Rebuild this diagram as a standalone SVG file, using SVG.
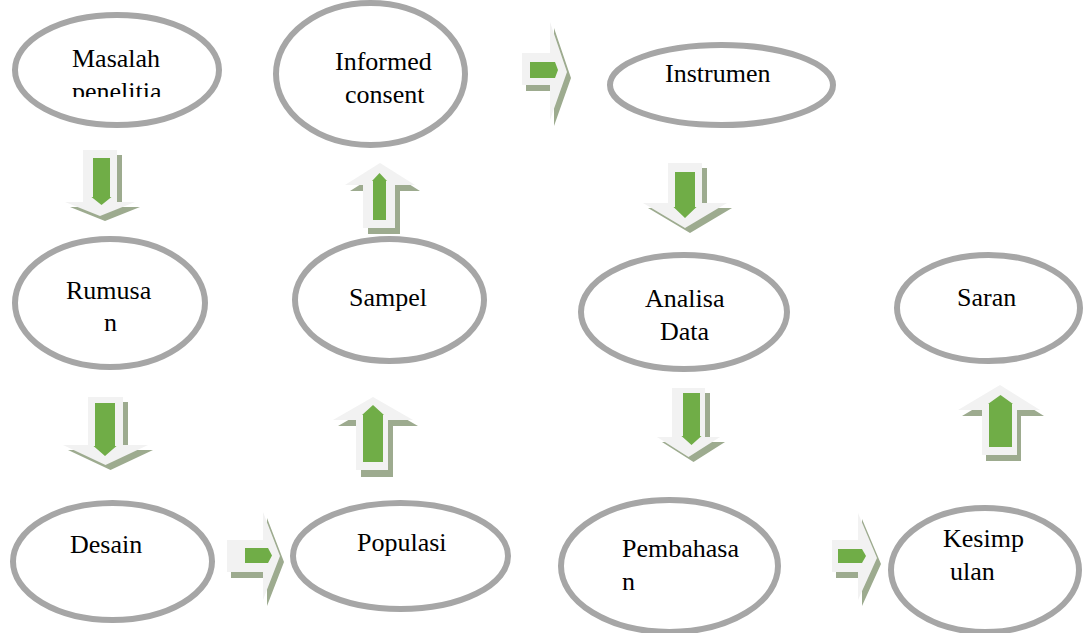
<svg xmlns="http://www.w3.org/2000/svg" width="1083" height="633" viewBox="0 0 1083 633">
<style>
.node ellipse{fill:#ffffff;stroke:#a6a6a6;stroke-width:6}
.node text{font-family:"Liberation Serif","Times New Roman",serif;font-size:26px;fill:#000000}
.lt{fill:#f2f2f2}
.sh{fill:#9dab8f}
.gr{fill:#70ad47}
</style>
<defs>
<clipPath id="clipM"><rect x="0" y="0" width="240" height="97"/></clipPath>
</defs>
<rect width="1083" height="633" fill="#ffffff"/>
<g id="connectors">
  <!-- D1 -->
  <g id="arrow-masalah-rumusan">
    <path class="sh" d="M88,155 H122 V207 H140 L105,221 L70,207 H88 Z"/>
    <path class="lt" d="M83,150 H117 V202 H135 L100,216 L65,202 H83 Z"/>
    <path class="gr" d="M93,158 H110 V197 H111.5 L101.5,205 L91.5,197 H93 Z"/>
  </g>
  <!-- D2 -->
  <g id="arrow-rumusan-desain">
    <path class="sh" d="M93,402 H128 V450 H153 L110.5,470 L68,450 H93 Z"/>
    <path class="lt" d="M88,397 H123 V445 H148 L105.5,465 L63,445 H88 Z"/>
    <path class="gr" d="M95,403 H115 V446 H116.5 L105,456 L93.5,446 H95 Z"/>
  </g>
  <!-- R2 -->
  <g id="arrow-desain-populasi">
    <path class="sh" d="M231,546 H267 V518 L284,562 L267,606 V578 H231 Z"/>
    <path class="lt" d="M227,540 H263 V512 L280,556 L263,600 V572 H227 Z"/>
    <path class="gr" d="M245,548 H268 L272,555.5 L268,563 H245 Z"/>
  </g>
  <!-- U2 -->
  <g id="arrow-populasi-sampel">
    <path class="sh" d="M378,403 L418,426 H393 V477 H361 V426 H338 Z"/>
    <path class="lt" d="M373,397 L413,420 H388 V470 H356 V420 H333 Z"/>
    <path class="gr" d="M373,405 L384,415 H383 V462 H363 V415 H362 Z"/>
  </g>
  <!-- U1 -->
  <g id="arrow-sampel-informed">
    <path class="sh" d="M385,169 L420,191 H400 V234 H368 V191 H350 Z"/>
    <path class="lt" d="M380,163 L415,185 H395 V228 H363 V185 H345 Z"/>
    <path class="gr" d="M379.5,173 L387,181 H386 V220 H373 V181 H372 Z"/>
  </g>
  <!-- R1 -->
  <g id="arrow-informed-instrumen">
    <path class="sh" d="M526,59 H554 V28 L571,78 L554,126 V91 H526 Z"/>
    <path class="lt" d="M522,53 H550 V22 L567,72 L550,120 V85 H522 Z"/>
    <path class="gr" d="M530,62 H555 L558,70 L555,78 H530 Z"/>
  </g>
  <!-- D3 -->
  <g id="arrow-instrumen-analisa">
    <path class="sh" d="M673,168 H707 V208 H732 L690,233 L648,208 H673 Z"/>
    <path class="lt" d="M668,163 H702 V203 H727 L685,228 L643,203 H668 Z"/>
    <path class="gr" d="M675,172 H695 V207 H696.5 L685,218 L673.5,207 H675 Z"/>
  </g>
  <!-- D4 -->
  <g id="arrow-analisa-pembahasan">
    <path class="sh" d="M677,393 H710 V442 H725 L693.5,462 L662,442 H677 Z"/>
    <path class="lt" d="M672,388 H705 V437 H720 L688.5,457 L657,437 H672 Z"/>
    <path class="gr" d="M683,393 H700 V436 H701.5 L691.5,445 L681.5,436 H683 Z"/>
  </g>
  <!-- R3 -->
  <g id="arrow-pembahasan-kesimpulan">
    <path class="sh" d="M836,546 H862 V519 L881,564 L862,606 V578 H836 Z"/>
    <path class="lt" d="M832,540 H858 V513 L877,558 L858,600 V572 H832 Z"/>
    <path class="gr" d="M838,549 H862 L866,556 L862,563 H838 Z"/>
  </g>
  <!-- U3 -->
  <g id="arrow-kesimpulan-saran">
    <path class="sh" d="M1004,391 L1044,416 H1021 V461 H986 V416 H962 Z"/>
    <path class="lt" d="M1000,385 L1040,410 H1017 V455 H982 V410 H958 Z"/>
    <path class="gr" d="M1000.5,395 L1013,404 H1012 V447 H989 V404 H988 Z"/>
  </g>
</g>
<g id="node-masalah" class="node">
  <ellipse cx="117" cy="70" rx="102" ry="55"/>
  <g clip-path="url(#clipM)">
    <text x="72" y="67">Masalah</text>
    <text x="72" y="100">penelitia</text>
  </g>
</g>
<g id="node-informed" class="node">
  <ellipse cx="370.5" cy="74" rx="94.5" ry="71"/>
  <text x="335" y="70">Informed</text>
  <text x="345" y="103">consent</text>
</g>
<g id="node-instrumen" class="node">
  <ellipse cx="721.5" cy="85" rx="111.5" ry="40"/>
  <text x="665" y="82">Instrumen</text>
</g>
<g id="node-rumusan" class="node">
  <ellipse cx="110" cy="303" rx="95" ry="64"/>
  <text x="66" y="299">Rumusa</text>
  <text x="104" y="331">n</text>
</g>
<g id="node-sampel" class="node">
  <ellipse cx="389.5" cy="300" rx="94.5" ry="61"/>
  <text x="349" y="306">Sampel</text>
</g>
<g id="node-analisa" class="node">
  <ellipse cx="684" cy="312" rx="103" ry="57"/>
  <text x="645" y="307">Analisa</text>
  <text x="660" y="340">Data</text>
</g>
<g id="node-saran" class="node">
  <ellipse cx="988.5" cy="308" rx="91.5" ry="53"/>
  <text x="957" y="306">Saran</text>
</g>
<g id="node-desain" class="node">
  <ellipse cx="112.5" cy="561.5" rx="99.5" ry="58.5"/>
  <text x="70" y="553">Desain</text>
</g>
<g id="node-populasi" class="node">
  <ellipse cx="400.5" cy="556" rx="107.5" ry="53"/>
  <text x="357" y="551">Populasi</text>
</g>
<g id="node-pembahasan" class="node">
  <ellipse cx="669.5" cy="566" rx="108.5" ry="66"/>
  <text x="622" y="557">Pembahasa</text>
  <text x="622" y="590">n</text>
</g>
<g id="node-kesimpulan" class="node">
  <ellipse cx="985" cy="570" rx="94" ry="62"/>
  <text x="943" y="547">Kesimp</text>
  <text x="950" y="580">ulan</text>
</g>
</svg>
